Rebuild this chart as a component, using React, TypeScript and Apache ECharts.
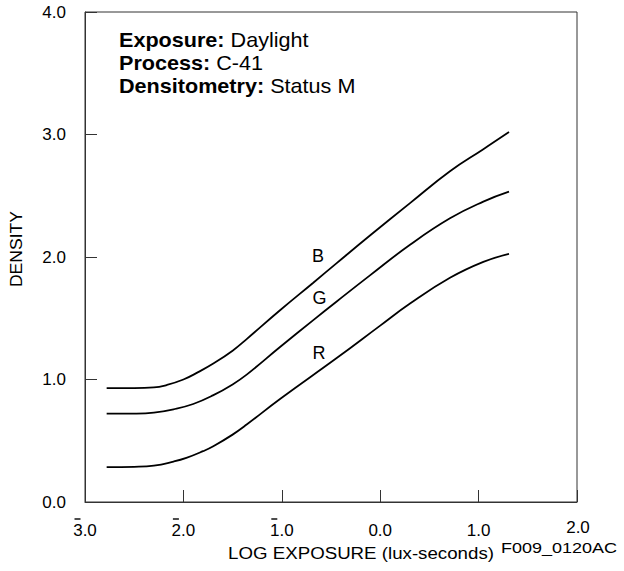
import React, { useEffect, useRef } from "react";
import * as echarts from "echarts";

// Log exposure (x) and density (y)
const xB = [-2.78, -2.5, -2.3, -2.17, -2.0, -1.85, -1.696, -1.5, -1.357, -1.018, -0.68, -0.442, -0.104, 0.303, 0.709, 1.048, 1.309];
const yB = [0.93, 0.93, 0.935, 0.955, 1.0, 1.06, 1.13, 1.235, 1.33, 1.565, 1.79, 1.95, 2.175, 2.44, 2.7, 2.88, 3.02];
const xG = [-2.78, -2.5, -2.3, -2.1, -1.9, -1.7, -1.5, -1.357, -1.018, -0.68, -0.442, -0.104, 0.303, 0.709, 1.048, 1.309];
const yG = [0.721, 0.722, 0.73, 0.757, 0.8, 0.87, 0.96, 1.04, 1.265, 1.485, 1.637, 1.85, 2.1, 2.316, 2.452, 2.533];
const xR = [-2.78, -2.5, -2.3, -2.1, -1.97, -1.8, -1.696, -1.5, -1.357, -1.018, -0.442, 0.0, 0.303, 0.709, 1.048, 1.309];
const yR = [0.284, 0.287, 0.297, 0.33, 0.36, 0.415, 0.455, 0.55, 0.632, 0.841, 1.175, 1.44, 1.62, 1.83, 1.96, 2.025];

const curveNames = ["B", "G", "R"];
const curveLabelX = [-0.632, -0.617, -0.622];
const curveLabelY = [2.009, 1.667, 1.218];

const infoKeys = ["Exposure:", "Process:", "Densitometry:"];
const infoValues = ["Daylight", "C-41", "Status M"];

const xMin = -3;
const xMax = 2;
const yMin = 0;
const yMax = 4;

const FONT = "'Liberation Sans', Arial, Helvetica, sans-serif";
const AXIS = "#333";

// Negative characteristics are written with a bar over the digit (e.g. 3̄.0 = -3.0)
function fmtLog(v: number): string {
  if (v < 0) return "{o| }{sp| }\n{r|" + String(Math.abs(v)) + ".0}";
  return "{e| }\n{r|" + v.toFixed(1) + "}";
}

export default function App() {
  const ref = useRef<HTMLDivElement>(null);
  useEffect(() => {
    if (!ref.current) return;
    const chart = echarts.init(ref.current, null, { renderer: "svg" });
    const xs = [xB, xG, xR];
    const ys = [yB, yG, yR];
    const series = curveNames.map((n, i) => ({
      name: n,
      type: "line",
      smooth: 0.45,
      symbol: "none",
      lineStyle: { color: "#000", width: 1.8 },
      data: xs[i].map((x, j) => [x, ys[i][j]]),
      markPoint: {
        symbol: "circle",
        symbolSize: 0,
        data: [
          {
            coord: [curveLabelX[i], curveLabelY[i]],
            label: {
              show: true,
              formatter: n,
              position: "inside",
              color: "#000",
              fontSize: 18,
              fontFamily: FONT,
            },
          },
        ],
      },
    }));
    const rich = infoKeys
      .map((k, i) => `{b|${k}} {n|${infoValues[i]}}`)
      .join("\n");
    chart.setOption({
      animation: false,
      grid: {
        left: 85,
        right: 47,
        top: 12,
        bottom: 69,
        show: true,
        borderColor: AXIS,
        borderWidth: 1,
      },
      xAxis: {
        type: "value",
        min: xMin,
        max: xMax,
        interval: 1,
        splitLine: { show: false },
        axisLine: { show: true, onZero: false, lineStyle: { color: AXIS, width: 1 } },
        axisTick: { show: true, inside: true, length: 12, lineStyle: { color: AXIS } },
        axisLabel: {
          color: "#000",
          fontSize: 17,
          fontFamily: FONT,
          margin: 15,
          formatter: (v: number) => (v === xMax ? "" : fmtLog(v)),
          rich: {
            o: { width: 6, height: 1.4, lineHeight: 4, fontSize: 1, backgroundColor: "#000" },
            sp: { width: 15, lineHeight: 4, fontSize: 1 },
            e: { lineHeight: 4, fontSize: 1 },
            r: { fontSize: 17, lineHeight: 18, fontFamily: FONT, color: "#000" },
          },
        },
      },
      yAxis: {
        type: "value",
        min: yMin,
        max: yMax,
        interval: 1,
        splitLine: { show: false },
        axisLine: { show: true, onZero: false, lineStyle: { color: AXIS, width: 1 } },
        axisTick: { show: true, inside: true, length: 12, lineStyle: { color: AXIS } },
        axisLabel: {
          color: "#000",
          fontSize: 17,
          fontFamily: FONT,
          margin: 19,
          formatter: (v: number) => v.toFixed(1),
        },
      },
      graphic: [
        {
          type: "text",
          left: 119,
          top: 28,
          scaleX: 1.08,
          style: {
            text: rich,
            fontFamily: FONT,
            fontSize: 20,
            lineHeight: 23,
            fill: "#000",
            rich: {
              b: { fontWeight: "bold", fontSize: 20, fontFamily: FONT, lineHeight: 23 },
              n: { fontSize: 20, fontFamily: FONT, lineHeight: 23 },
            },
          },
        },
        {
          type: "text",
          x: 17,
          y: 249,
          rotation: Math.PI / 2,
          scaleX: 1.1,
          style: {
            text: "DENSITY",
            fontFamily: FONT,
            fontSize: 16,
            fill: "#000",
            align: "center",
            verticalAlign: "middle",
          },
        },
        {
          type: "text",
          x: 361,
          y: 553,
          scaleX: 1.1,
          style: {
            text: "LOG EXPOSURE (lux-seconds)",
            fontFamily: FONT,
            fontSize: 17,
            fill: "#000",
            align: "center",
            verticalAlign: "middle",
          },
        },
        {
          type: "text",
          x: 578,
          y: 527.5,
          style: {
            text: "2.0",
            fontFamily: FONT,
            fontSize: 17,
            fill: "#000",
            align: "center",
            verticalAlign: "middle",
          },
        },
        {
          type: "text",
          x: 559,
          y: 548,
          scaleX: 1.2,
          style: {
            text: "F009_0120AC",
            fontFamily: FONT,
            fontSize: 15,
            fill: "#000",
            align: "center",
            verticalAlign: "middle",
          },
        },
      ],
      series,
    });
    return () => chart.dispose();
  }, []);
  return (
    <div
      ref={ref}
      style={{ position: "fixed", left: 0, top: 0, width: 624, height: 571, background: "#fff" }}
    />
  );
}
